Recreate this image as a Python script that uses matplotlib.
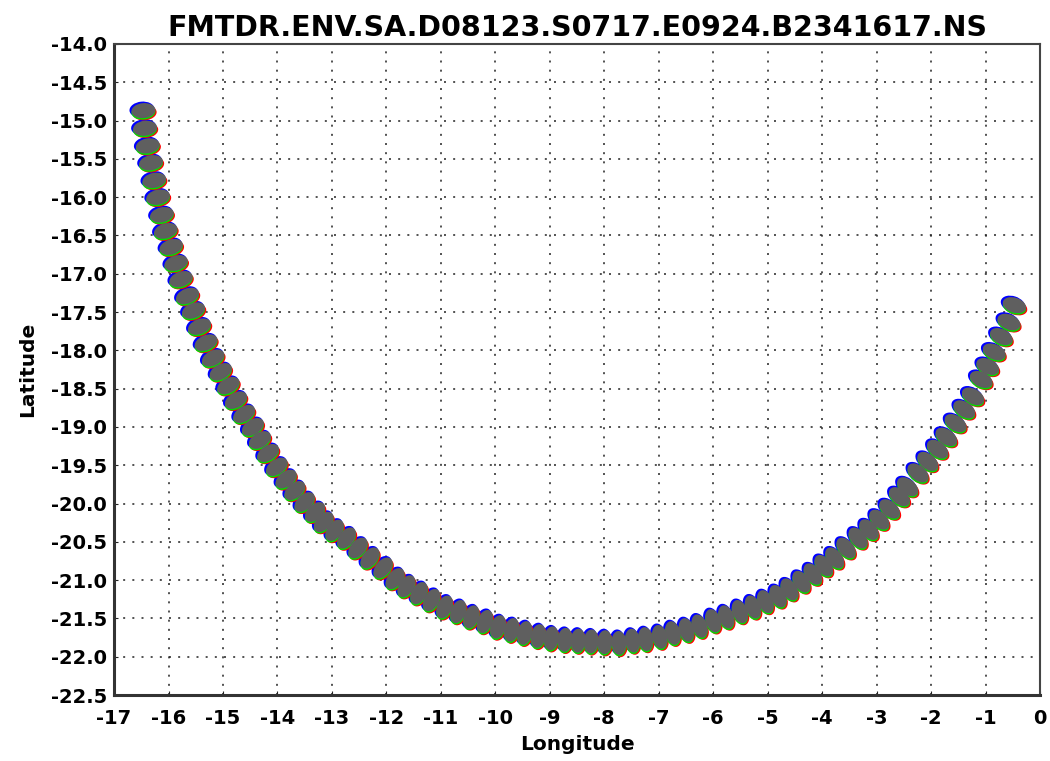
import numpy as np
import matplotlib.pyplot as plt
from matplotlib.patches import Ellipse
from matplotlib.transforms import ScaledTranslation, Affine2D

# footprint centres along the scan
lon = [-16.46, -16.43, -16.38, -16.32, -16.26, -16.19, -16.12, -16.05, -15.95, -15.86,
       -15.77, -15.65, -15.54, -15.43, -15.31, -15.18, -15.04, -14.90, -14.76, -14.61,
       -14.45, -14.32, -14.17, -14.01, -13.84, -13.68, -13.50, -13.31, -13.15, -12.95,
       -12.73, -12.52, -12.30, -12.06, -11.84, -11.63, -11.40, -11.17, -10.93, -10.68,
       -10.44, -10.19, -9.95, -9.70, -9.46, -9.21, -8.97, -8.72, -8.48, -8.24,
       -7.99, -7.73, -7.48, -7.24, -6.98, -6.74, -6.49, -6.25, -6.00, -5.76,
       -5.51, -5.27, -5.04, -4.81, -4.60, -4.38, -4.17, -3.97, -3.77, -3.56,
       -3.34, -3.14, -2.95, -2.76, -2.58, -2.43, -2.24, -2.06, -1.88, -1.72,
       -1.55, -1.39, -1.23, -1.08, -0.96, -0.84, -0.71, -0.57, -0.47]
lat = [-14.87, -15.10, -15.33, -15.55, -15.78, -16.00, -16.23, -16.44, -16.65, -16.86,
       -17.07, -17.29, -17.48, -17.69, -17.90, -18.10, -18.28, -18.46, -18.65, -18.83,
       -19.00, -19.17, -19.34, -19.52, -19.68, -19.83, -19.98, -20.11, -20.24, -20.35,
       -20.45, -20.58, -20.71, -20.84, -20.98, -21.08, -21.17, -21.26, -21.35, -21.41,
       -21.48, -21.54, -21.61, -21.65, -21.69, -21.73, -21.76, -21.78, -21.79, -21.80,
       -21.81, -21.82, -21.79, -21.77, -21.74, -21.69, -21.65, -21.60, -21.53, -21.48,
       -21.41, -21.35, -21.28, -21.21, -21.12, -21.02, -20.92, -20.81, -20.71, -20.58,
       -20.45, -20.34, -20.21, -20.07, -19.91, -19.78, -19.60, -19.45, -19.29, -19.13,
       -18.95, -18.77, -18.60, -18.38, -18.21, -18.02, -17.82, -17.63, -17.41]

xticks = np.arange(-17, 1)
yticks = np.arange(-22.5, -13.9, 0.5)

title = "FMTDR.ENV.SA.D08123.S0717.E0924.B2341617.NS"

plt.rcParams['font.family'] = ['DejaVu Sans']
plt.rcParams['font.weight'] = 'bold'

fig = plt.figure(figsize=(10.5, 7.61), dpi=100)
ax = fig.add_axes([0.1086, 0.0867, 0.8819, 0.8555])
ax.set_xlim(-17, 0)
ax.set_ylim(-22.5, -14.0)
ax.set_xticks(xticks)
ax.set_yticks(yticks)
ax.set_xticklabels([str(v) for v in xticks])
ax.set_yticklabels(['%.1f' % v for v in yticks])
ax.tick_params(axis='both', direction='in', length=3, labelsize=14, colors='#222222')
ax.tick_params(axis='x', pad=10)
ax.tick_params(axis='y', pad=5)
for lab in ax.get_xticklabels() + ax.get_yticklabels():
    lab.set_fontweight('bold')
    lab.set_color('black')

ax.grid(True, color='#222222', linewidth=1.1, linestyle=(0, (1.3, 4.7)))
ax.set_axisbelow(True)
for side in ['left', 'bottom']:
    ax.spines[side].set_linewidth(2.2)
    ax.spines[side].set_color('#333333')
for side in ['top', 'right']:
    ax.spines[side].set_linewidth(1.5)
    ax.spines[side].set_color('#444444')

ax.set_title(title, fontsize=20.5, fontweight='bold', pad=6)
ax.set_xlabel('Longitude', fontsize=14.5, fontweight='bold', labelpad=5)
ax.set_ylabel('Latitude', fontsize=14.5, fontweight='bold', labelpad=10)

# orient each footprint across the track (in screen pixels)
pts = ax.transData.transform(np.column_stack([lon, lat]))
d = np.gradient(pts, axis=0)
ang = np.degrees(np.arctan2(d[:, 1], d[:, 0])) + 90

# colour channels drawn underneath, grey footprint on top
layers = [('#0000ff', -1.5, 1.0, 1.0),
          ('#ff0000', 1.2, -2.2, 0.0),
          ('#00dd00', 0.0, -1.5, 0.0),
          ('#5f5f5f', 0.0, 0.0, 0.0)]
for z, (color, dx, dy, grow) in enumerate(layers):
    for x, y, a in zip(lon, lat, ang):
        tr = Affine2D().translate(dx, dy) + ScaledTranslation(x, y, ax.transData)
        e = Ellipse((0, 0), 24.0 + grow, 15.0 + grow, angle=a, transform=tr,
                    facecolor=color, edgecolor='none', zorder=3 + z * 0.1)
        ax.add_patch(e)

fig.savefig('out.png', dpi=100)
